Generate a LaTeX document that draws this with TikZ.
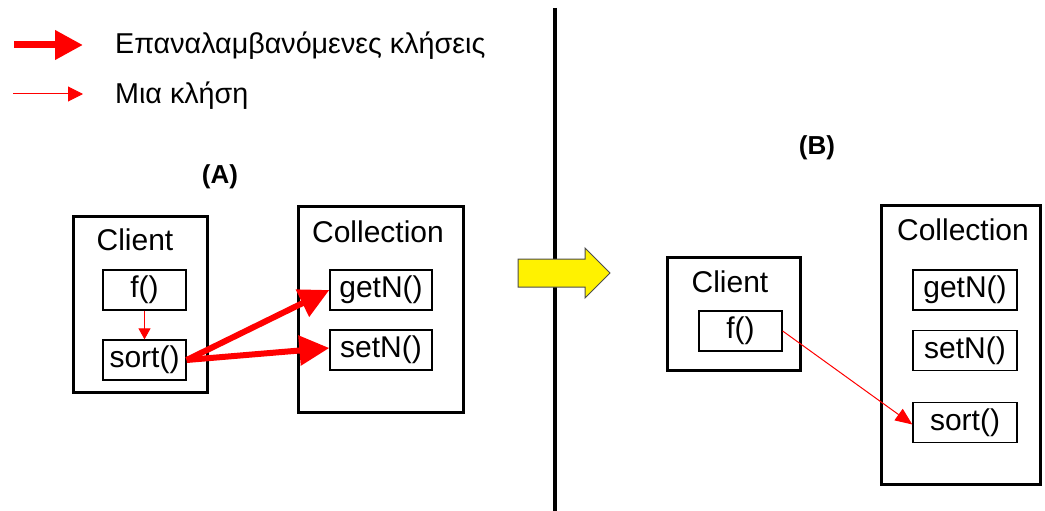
\documentclass[tikz,border=0pt]{standalone}
\usepackage{fontspec}
\setmainfont{Liberation Sans}
\usetikzlibrary{arrows.meta,shapes.arrows}

\begin{document}
\begin{tikzpicture}[x=1pt, y=-1pt,
      frame/.style={draw, line width=3pt, inner sep=0pt},
      meth/.style={draw, line width=1.3pt, minimum height=40pt, inner sep=0pt, font=\fontsize{30}{30}\selectfont},
      title/.style={inner sep=0pt, font=\fontsize{30}{30}\selectfont},
      many/.style={red, line width=6pt, -{Triangle[length=30pt, width=29pt]}},
      once/.style={red, line width=1pt, -{Triangle[length=14pt, width=13pt]}}]
      \useasboundingbox (0,0) rectangle (1045,511);
      % legend
      \coordinate (l1a) at (14,45);
      \coordinate (l1b) at (83,45);
      \coordinate (l2a) at (13,94);
      \coordinate (l2b) at (83,94);
      \draw[many, line width=7pt, -{Triangle[length=28pt, width=28pt]}] (l1a) -- (l1b);
      \draw[once, -{Triangle[length=15pt, width=15pt]}] (l2a) -- (l2b);
      \node at (115,46)[anchor=west, inner sep=0pt, font=\fontsize{28.7}{28.7}\selectfont] (t1){Επαναλαμβανόμενες κλήσεις};
      \node at (115,96)[anchor=west, inner sep=0pt, font=\fontsize{28.7}{28.7}\selectfont] (t2){Μια κλήση};
      % divider and the shift arrow
      \coordinate (top) at (555,8);
      \coordinate (bot) at (555,511);
      \draw[line width=3.5pt] (top) -- (bot);
      \node at (557,273)[single arrow, draw=black!70, fill=yellow, line width=1pt, inner xsep=0pt, inner ysep=13.5pt,
        minimum height=92pt, single arrow head extend=11pt] (shift){};
      % (A)
      \node at (220,177)[inner sep=0pt, font=\fontsize{26}{26}\selectfont\bfseries] (capA){(A)};
      \node at (140,304)[frame, minimum width=134pt, minimum height=176pt] (cliA){};
      \node at (135,240)[title] (cliAt){Client};
      \node at (144.5,290)[meth, minimum width=83pt] (fA){f()};
      \node at (144.5,360)[meth, minimum width=83pt] (sortA){sort()};
      \node at (380.5,309)[frame, minimum width=165pt, minimum height=206pt] (colA){};
      \node at (378,232)[title] (colAt){Collection};
      \node at (381,290)[meth, minimum width=102pt] (getA){getN()};
      \node at (381,350)[meth, minimum width=102pt] (setA){setN()};
      \draw[once, -{Triangle[length=11pt, width=12pt]}] (fA) -- (sortA);
      \draw[many] (sortA.east) -- (getA.west);
      \draw[many] (sortA.east) -- ([yshift=2pt]setA.west);
      % (B)
      \node at (817,148)[inner sep=0pt, font=\fontsize{26}{26}\selectfont\bfseries] (capB){(B)};
      \node at (733.5,313.5)[frame, minimum width=133pt, minimum height=113pt] (cliB){};
      \node at (730,282)[title] (cliBt){Client};
      \node at (740.5,331)[meth, minimum width=83pt] (fB){f()};
      \node at (960.5,344.5)[frame, minimum width=159pt, minimum height=279pt] (colB){};
      \node at (963,230)[title] (colBt){Collection};
      \node at (965,290)[meth, minimum width=104pt] (getB){getN()};
      \node at (965,350.5)[meth, minimum width=104pt] (setB){setN()};
      \node at (965,422.5)[meth, minimum width=104pt] (sortB){sort()};
      \draw[once, -{Triangle[length=17pt, width=14pt]}] (fB.east) -- ([yshift=-2pt]sortB.west);
\end{tikzpicture}
\end{document}
